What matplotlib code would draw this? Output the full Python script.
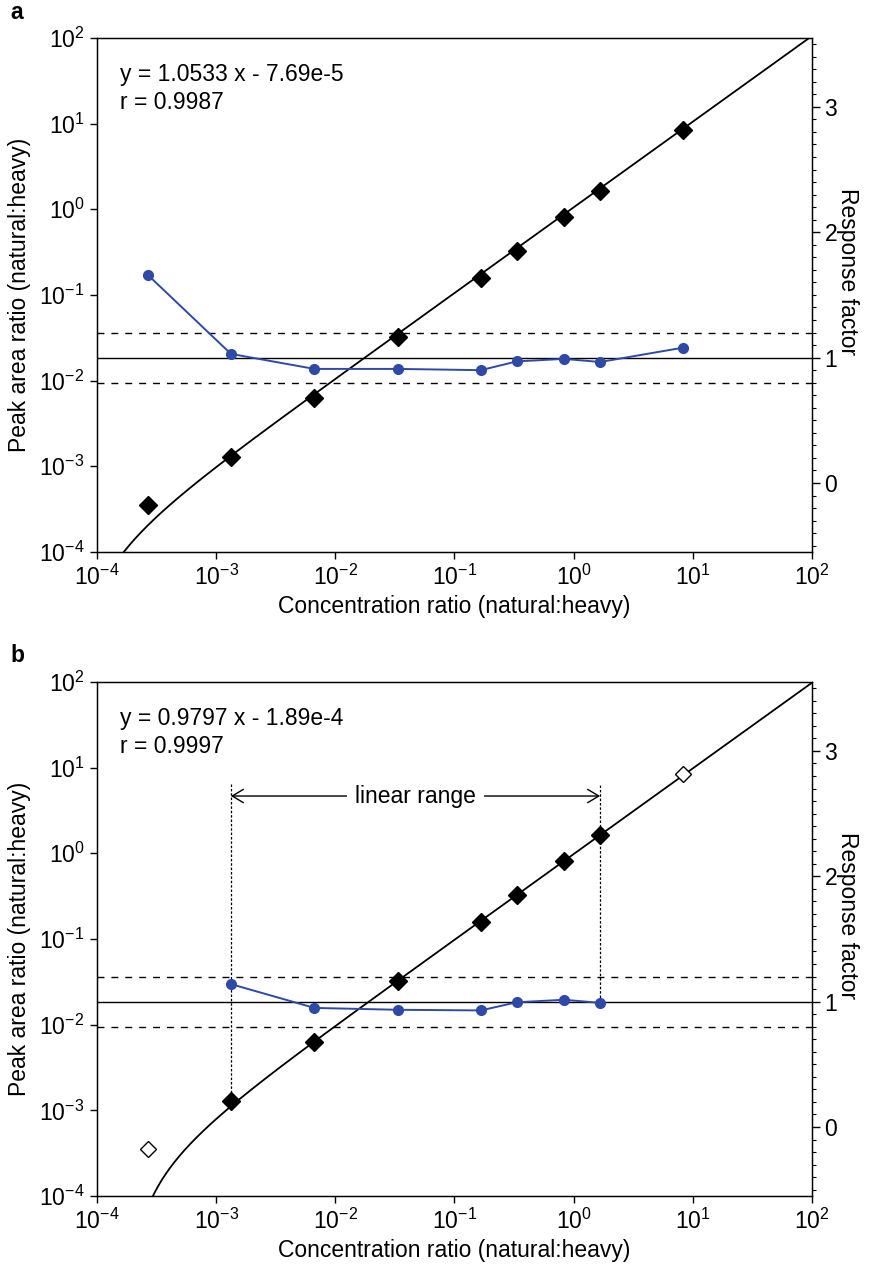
import numpy as np
import matplotlib
matplotlib.use("Agg")
import matplotlib.pyplot as plt
from matplotlib.ticker import NullLocator, MultipleLocator, FixedLocator

plt.rcParams['font.family'] = ['Liberation Sans', 'DejaVu Sans']
plt.rcParams['mathtext.fontset'] = 'custom'
plt.rcParams['mathtext.rm'] = 'Liberation Sans'
plt.rcParams['mathtext.it'] = 'Liberation Sans:italic'
plt.rcParams['mathtext.bf'] = 'Liberation Sans:bold'
plt.rcParams['axes.unicode_minus'] = True

FS = 16.5

# data
conc_ratio = [2.67e-4, 1.33e-3, 6.67e-3, 3.33e-2, 0.1667, 0.333, 0.833, 1.667, 8.33]
peak_ratio = [3.5e-4, 1.28e-3, 6.3e-3, 0.032, 0.158, 0.325, 0.82, 1.62, 8.5]

resp_a = [1.66, 1.03, 0.91, 0.91, 0.90, 0.97, 0.99, 0.965, 1.08]
resp_b = [1.14, 0.95, 0.935, 0.93, 0.995, 1.015, 0.99]  # conc_ratio[1:8]

fit_a = (1.0533, -7.69e-5, "y = 1.0533 x - 7.69e-5", "r = 0.9987")
fit_b = (0.9797, -1.89e-4, "y = 0.9797 x - 1.89e-4", "r = 0.9997")

decades = [1e-4, 1e-3, 1e-2, 1e-1, 1e0, 1e1, 1e2]

blue = '#2f4aa6'

fig = plt.figure(figsize=(8.69, 12.68), dpi=100)
ax_a = fig.add_axes([0.1116, 0.5647, 0.8228, 0.4054])
ax_b = fig.add_axes([0.1116, 0.0568, 0.8228, 0.4054])


def setup(ax):
    ax.set_xscale('log')
    ax.set_yscale('log')
    ax.set_xlim(1e-4, 1e2)
    ax.set_ylim(1e-4, 1e2)
    ax.xaxis.set_major_locator(FixedLocator(decades))
    ax.yaxis.set_major_locator(FixedLocator(decades))
    ax.xaxis.set_minor_locator(NullLocator())
    ax.yaxis.set_minor_locator(NullLocator())
    ax.tick_params(direction='out', length=5, width=1, labelsize=FS, pad=4)
    for s in ax.spines.values():
        s.set_linewidth(1.0)
    ax.set_xlabel('Concentration ratio (natural:heavy)', fontsize=FS, labelpad=4)
    ax.set_ylabel('Peak area ratio (natural:heavy)', fontsize=FS, labelpad=6)

    ax2 = ax.twinx()
    ax2.set_ylim(-0.55, 3.55)
    ax2.yaxis.set_major_locator(FixedLocator([0, 1, 2, 3]))
    ax2.yaxis.set_minor_locator(MultipleLocator(0.1))
    ax2.tick_params(which='major', direction='out', length=6, width=1, labelsize=FS, pad=3)
    ax2.tick_params(which='minor', direction='out', length=3, width=0.8)
    ax2.set_ylabel('Response factor', fontsize=FS, rotation=-90, va='center')
    ax2.yaxis.set_label_coords(1.05, 0.545)
    ax2.axhline(1.0, color='black', lw=1.0)
    ax2.axhline(1.2, color='black', lw=1.0, ls=(0, (5, 5)))
    ax2.axhline(0.8, color='black', lw=1.0, ls=(0, (5, 5)))
    return ax2


def draw_fit(ax, fit):
    slope, icpt, eq, r = fit
    xs = np.logspace(-4, 2, 600)
    ys = slope * xs + icpt
    ok = ys > 0
    ax.plot(xs[ok], ys[ok], color='black', lw=1.3, zorder=2)
    ax.text(0.032, 0.928, eq, transform=ax.transAxes, fontsize=FS, va='center')
    ax.text(0.032, 0.875, r, transform=ax.transAxes, fontsize=FS, va='center')


# panel a
a2 = setup(ax_a)
draw_fit(ax_a, fit_a)
ax_a.plot(conc_ratio, peak_ratio, ls='none', marker='D', ms=9, color='black', zorder=3)
a2.plot(conc_ratio, resp_a, color=blue, lw=1.4, marker='o', ms=7)

# panel b
b2 = setup(ax_b)
draw_fit(ax_b, fit_b)
ax_b.plot(conc_ratio[1:8], peak_ratio[1:8], ls='none', marker='D', ms=9, color='black', zorder=3)
ax_b.plot([conc_ratio[0], conc_ratio[8]], [peak_ratio[0], peak_ratio[8]], ls='none', marker='D', ms=8,
          mfc='white', mec='black', mew=1.0, zorder=3)
b2.plot(conc_ratio[1:8], resp_b, color=blue, lw=1.4, marker='o', ms=7)

# linear range markers
lo, hi = conc_ratio[1], conc_ratio[7]
ax_b.plot([lo, lo], [6.45, peak_ratio[1]], color='black', lw=0.9, ls=(0, (2, 1.5)), zorder=1)
b2.plot([hi, hi], [2.73, resp_b[-1]], color='black', lw=0.9, ls=(0, (2, 1.5)), zorder=1)
b2.annotate('', xy=(hi, 2.64), xytext=(lo, 2.64),
            arrowprops=dict(arrowstyle='<->,head_length=0.5,head_width=0.3', lw=1.0,
                            shrinkA=0, shrinkB=0, mutation_scale=16))
b2.text(np.sqrt(lo * hi), 2.64, 'linear range', ha='center', va='center', fontsize=FS,
        bbox=dict(fc='white', ec='none', pad=6))

fig.text(0.012, 0.990, 'a', fontsize=FS, fontweight='bold', va='center')
fig.text(0.012, 0.483, 'b', fontsize=FS, fontweight='bold', va='center')

fig.savefig('out.png', dpi=100)
